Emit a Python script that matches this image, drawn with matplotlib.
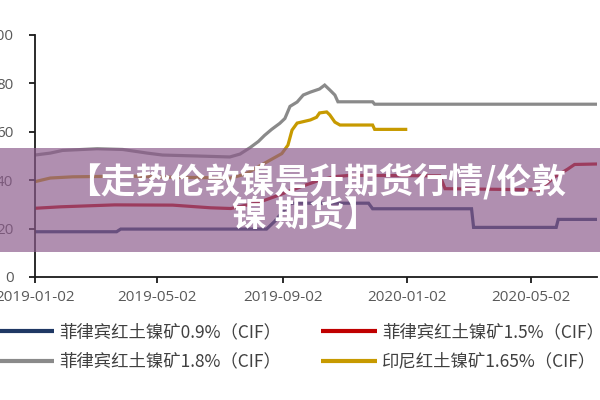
import matplotlib
matplotlib.use("Agg")
import matplotlib.pyplot as plt
from matplotlib.patches import Rectangle
import pandas as pd

# ---------------- data ----------------
blue_dates = ["2019-01-02", "2019-03-23", "2019-03-27", "2019-08-17", "2019-08-25", "2019-09-02",
              "2019-09-10", "2019-11-25", "2019-11-29", "2020-03-05", "2020-03-07", "2020-05-27",
              "2020-05-29", "2020-07-06"]
blue_vals = [18.7, 18.7, 19.8, 19.8, 23.0, 27.0, 30.5, 30.5, 28.2, 28.2, 20.5, 20.5, 23.8, 23.8]

red_dates = ["2019-01-02", "2019-01-27", "2019-03-21", "2019-05-17", "2019-06-23", "2019-07-13",
             "2019-08-09", "2019-08-25", "2019-09-21", "2019-10-08", "2019-10-23", "2019-11-07",
             "2020-02-03", "2020-02-08", "2020-05-11", "2020-05-16", "2020-05-26", "2020-06-07",
             "2020-06-14", "2020-07-06"]
red_vals = [28.4, 29.0, 29.8, 29.7, 28.6, 28.3, 30.8, 33.2, 37.5, 40.0, 41.5, 42.0,
            41.8, 36.5, 36.0, 38.0, 41.5, 44.5, 46.5, 46.7]

gray_dates = ["2019-01-02", "2019-01-17", "2019-01-29", "2019-03-04", "2019-03-29", "2019-04-22",
              "2019-05-07", "2019-06-10", "2019-07-12", "2019-07-22", "2019-08-01", "2019-08-09",
              "2019-08-15", "2019-08-22", "2019-08-30", "2019-09-04", "2019-09-09", "2019-09-16",
              "2019-09-22", "2019-09-29", "2019-10-08", "2019-10-13", "2019-10-18", "2019-10-23",
              "2019-10-26", "2019-11-29", "2019-12-01", "2020-07-06"]
gray_vals = [50.4, 51.2, 52.3, 53.0, 52.7, 51.2, 50.4, 50.0, 49.6, 50.8, 53.5, 56.0,
             58.5, 61.0, 63.5, 65.5, 70.5, 72.3, 75.2, 76.4, 77.7, 79.3, 77.3, 75.2,
             72.4, 72.4, 71.4, 71.4]

gold_dates = ["2019-01-02", "2019-01-17", "2019-02-08", "2019-04-05", "2019-05-07", "2019-07-13",
              "2019-07-27", "2019-08-15", "2019-09-01", "2019-09-07", "2019-09-11", "2019-09-16",
              "2019-09-29", "2019-10-05", "2019-10-08", "2019-10-15", "2019-10-18", "2019-10-23",
              "2019-10-28", "2019-11-29", "2019-12-01", "2020-01-02"]
gold_vals = [39.4, 40.9, 41.4, 41.7, 41.3, 40.9, 42.5, 47.0, 51.0, 54.5, 60.7, 63.6,
             64.9, 66.0, 67.8, 68.2, 67.0, 64.0, 62.8, 62.8, 61.0, 61.0]

series_labels = ["菲律宾红土镍矿0.9%（CIF）", "菲律宾红土镍矿1.5%（CIF）",
                 "菲律宾红土镍矿1.8%（CIF）", "印尼红土镍矿1.65%（CIF）"]
series_colors = ["#1F3864", "#C00000", "#8A8A8A", "#C79A00"]

x_tick_labels = ["2019-01-02", "2019-05-02", "2019-09-02", "2020-01-02", "2020-05-02"]
y_ticks = [0, 20, 40, 60, 80, 100]
x_range = ["2019-01-02", "2020-07-06"]

title_lines = ["【走势伦敦镍是升期货行情/伦敦", "镍 期货】"]

# ---------------- figure ----------------
W, H = 600, 400
fig = plt.figure(figsize=(6, 4), dpi=100)
fig.patch.set_facecolor("white")
ax = fig.add_axes([35 / W, 1 - 277 / H, (597 - 35) / W, (277 - 35) / H])

all_series = [(blue_dates, blue_vals), (red_dates, red_vals),
              (gray_dates, gray_vals), (gold_dates, gold_vals)]
lines = []
for (d, v), lab, col in zip(all_series, series_labels, series_colors):
    ln, = ax.plot(pd.to_datetime(d), v, color=col, lw=2.3, label=lab,
                  solid_joinstyle="miter", solid_capstyle="butt")
    lines.append(ln)

ax.set_ylim(0, 100)
ax.set_yticks(y_ticks)
ax.set_xlim(pd.to_datetime(x_range[0]), pd.to_datetime(x_range[1]))
ax.set_xticks(pd.to_datetime(x_tick_labels))
ax.set_xticklabels(x_tick_labels)

for s in ["top", "right"]:
    ax.spines[s].set_visible(False)
for s in ["left", "bottom"]:
    ax.spines[s].set_color("#1a1a1a")
    ax.spines[s].set_linewidth(1.3)
ax.tick_params(axis="both", direction="out", length=4.5, width=1.3, color="#1a1a1a",
               labelsize=11, labelcolor="#595959")
ax.tick_params(axis="x", pad=5)
ax.tick_params(axis="y", pad=11)
for t in ax.get_xticklabels() + ax.get_yticklabels():
    t.set_fontfamily("Open Sans")
ax.set_facecolor("white")

# legends (two columns)
leg_kw = dict(loc="center left", frameon=False, borderpad=0, borderaxespad=0,
              handlelength=3.2, handletextpad=0.3, labelspacing=0.65,
              prop={"family": ["Noto Sans CJK SC", "DejaVu Sans"], "size": 12.5},
              bbox_transform=fig.transFigure)
leg1 = fig.legend([lines[0], lines[2]], [series_labels[0], series_labels[2]],
                  bbox_to_anchor=(-2 / W, 1 - 347 / H), **leg_kw)
leg2 = fig.legend([lines[1], lines[3]], [series_labels[1], series_labels[3]],
                  bbox_to_anchor=(321 / W, 1 - 347 / H), **leg_kw)
for lg in (leg1, leg2):
    for t in lg.get_texts():
        t.set_color("#404040")
    for h in lg.legend_handles:
        h.set_linewidth(3)

# overlay band with title
band = Rectangle((0, 1 - 252 / H), 1, (252 - 148) / H, transform=fig.transFigure,
                 facecolor="#8B5A8B", alpha=0.68, edgecolor="none", zorder=10)
fig.add_artist(band)
for txt, xc, yc in zip(title_lines, [316, 305], [181, 215]):
    fig.text(xc / W, 1 - yc / H, txt, ha="center", va="center", color="white",
             fontsize=25, fontweight="heavy", family=["Noto Sans CJK SC", "DejaVu Sans"],
             zorder=11)

fig.savefig("out.png", dpi=100)
